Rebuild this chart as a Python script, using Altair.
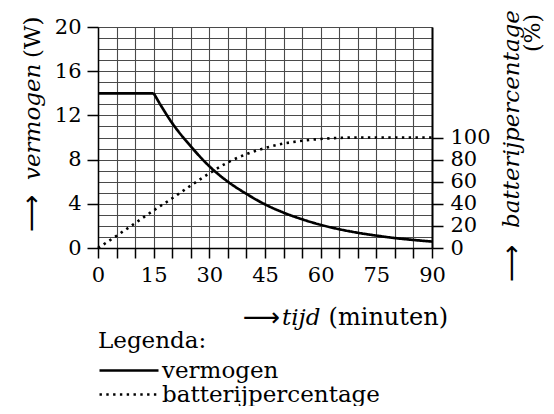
import altair as alt
import pandas as pd

# ---- data ----
tijd_vermogen = [0, 15, 15, 20, 25, 30, 35, 40, 45, 50, 55, 60, 65, 70, 75, 80, 85, 90]
vermogen = [14, 14, 14, 11.3, 9.2, 7.4, 6.0, 4.9, 3.95, 3.2, 2.6, 2.1, 1.7, 1.38, 1.12, 0.9, 0.73, 0.58]
fase = ["constant", "constant"] + ["afnemend"] * 16

tijd_batterij = [0, 5, 10, 15, 20, 25, 30, 35, 40, 45, 50, 55, 60, 65, 70, 75, 80, 85, 90]
batterij = [0, 11, 22.5, 34, 45, 56.5, 67.5, 77.5, 85, 90.5, 94.5, 97, 98.7, 99.6, 100, 100, 100, 100, 100]

x_ticks = list(range(0, 91, 5))
y_left_ticks = list(range(0, 21))
y_right_ticks = [0, 20, 40, 60, 80, 100]
reeksen = ["vermogen", "batterijpercentage"]

FONT = "DejaVu Serif"
ARROW_FONT = "DejaVu Sans"
TICK_SIZE = 21
GRID = "#4a4a4a"

df_p = pd.DataFrame({"tijd": tijd_vermogen, "waarde": vermogen, "fase": fase,
                     "reeks": ["vermogen"] * len(vermogen)})
df_b = pd.DataFrame({"tijd": tijd_batterij, "waarde": batterij,
                     "reeks": ["batterijpercentage"] * len(batterij)})
anno = pd.DataFrame({"k": [0]})

x_enc = alt.X(
    "tijd:Q",
    scale=alt.Scale(domain=[0, 90], nice=False),
    axis=alt.Axis(
        values=x_ticks,
        labelExpr="datum.value % 15 === 0 ? datum.label : ''",
        title=None, grid=True, gridColor=GRID, gridWidth=1.1,
        tickSize=10, tickWidth=1.5, tickColor="black",
        domainColor="black", domainWidth=1.5,
        labelFont=FONT, labelFontSize=TICK_SIZE, labelColor="black", labelPadding=6,
        labelFlush=False, labelOverlap=False,
    ),
)

dash = alt.StrokeDash(
    "reeks:N",
    scale=alt.Scale(domain=reeksen, range=[[1, 0], [2.4, 4.4]]),
    legend=alt.Legend(
        title="Legenda:", orient="none", legendX=0, legendY=303,
        titleFont=FONT, titleFontSize=23, titleFontWeight="normal", titleColor="black",
        titlePadding=6,
        labelFont=FONT, labelFontSize=23, labelColor="black", labelOffset=2, labelLimit=400,
        symbolType="stroke", symbolSize=3481, symbolStrokeWidth=2.5,
        symbolStrokeColor="black", clipHeight=23, rowPadding=0,
    ),
)

power = alt.Chart(df_p).mark_line(color="black", strokeWidth=2.7, interpolate="monotone").encode(
    x=x_enc,
    y=alt.Y(
        "waarde:Q",
        scale=alt.Scale(domain=[0, 20], nice=False),
        axis=alt.Axis(
            orient="left", values=y_left_ticks,
            labelExpr="datum.value % 4 === 0 ? datum.label : ''",
            tickOpacity={"condition": {"test": "datum.value % 4 === 0", "value": 1}, "value": 0},
            title=None, grid=True, gridColor=GRID, gridWidth=1.1,
            tickSize=11, tickWidth=1.5, tickColor="black",
            domainColor="black", domainWidth=1.5,
            labelFont=FONT, labelFontSize=TICK_SIZE, labelColor="black", labelPadding=6,
            labelOverlap=False,
        ),
    ),
    strokeDash=dash,
    detail="fase:N",
)

battery = alt.Chart(df_b).mark_line(color="black", strokeWidth=2.6, interpolate="monotone").encode(
    x=x_enc,
    y=alt.Y(
        "waarde:Q",
        scale=alt.Scale(domain=[0, 200], nice=False),
        axis=alt.Axis(
            orient="right", values=y_right_ticks,
            title=None, grid=False,
            tickSize=11, tickWidth=1.5, tickColor="black",
            domainColor="black", domainWidth=2,
            labelFont=FONT, labelFontSize=TICK_SIZE, labelColor="black", labelPadding=7,
            labelOverlap=False,
        ),
    ),
    strokeDash=dash,
)


def txt(text, x, y, size=23, style="normal", angle=0, align="left", font=FONT):
    return alt.Chart(anno).mark_text(
        text=text, font=font, fontSize=size, fontStyle=style, angle=angle,
        align=align, baseline="middle", color="black",
    ).encode(x=alt.value(x), y=alt.value(y))


labels = [
    # x-axis title
    txt("\u27f6", 182, 291, size=26, align="right", font=ARROW_FONT),
    txt("tijd", 184, 291, style="italic"),
    txt("(minuten)", 350, 291, size=24, align="right"),
    # left axis title
    txt("\u27f6", -66, 205, size=26, angle=270, align="left", font=ARROW_FONT),
    txt("vermogen", -65, 153, style="italic", angle=270, align="left"),
    txt("(W)", -65, 31, angle=270, align="left"),
    # right axis title
    txt("\u27f6", 414, 255, size=26, angle=270, align="left", font=ARROW_FONT),
    txt("batterijpercentage", 414, 201, style="italic", angle=270, align="left"),
    txt("(%)", 435, -13, size=22, angle=270, align="right"),
]

chart = alt.layer(power, battery, *labels).resolve_scale(
    y="independent"
).properties(
    width=334, height=221,
    padding={"left": 90, "top": 19, "right": 114, "bottom": 158},
    autosize=alt.AutoSizeParams(type="none"),
).configure_view(strokeWidth=0)

chart.save("out.html", embed_options={"renderer": "svg", "actions": False})
